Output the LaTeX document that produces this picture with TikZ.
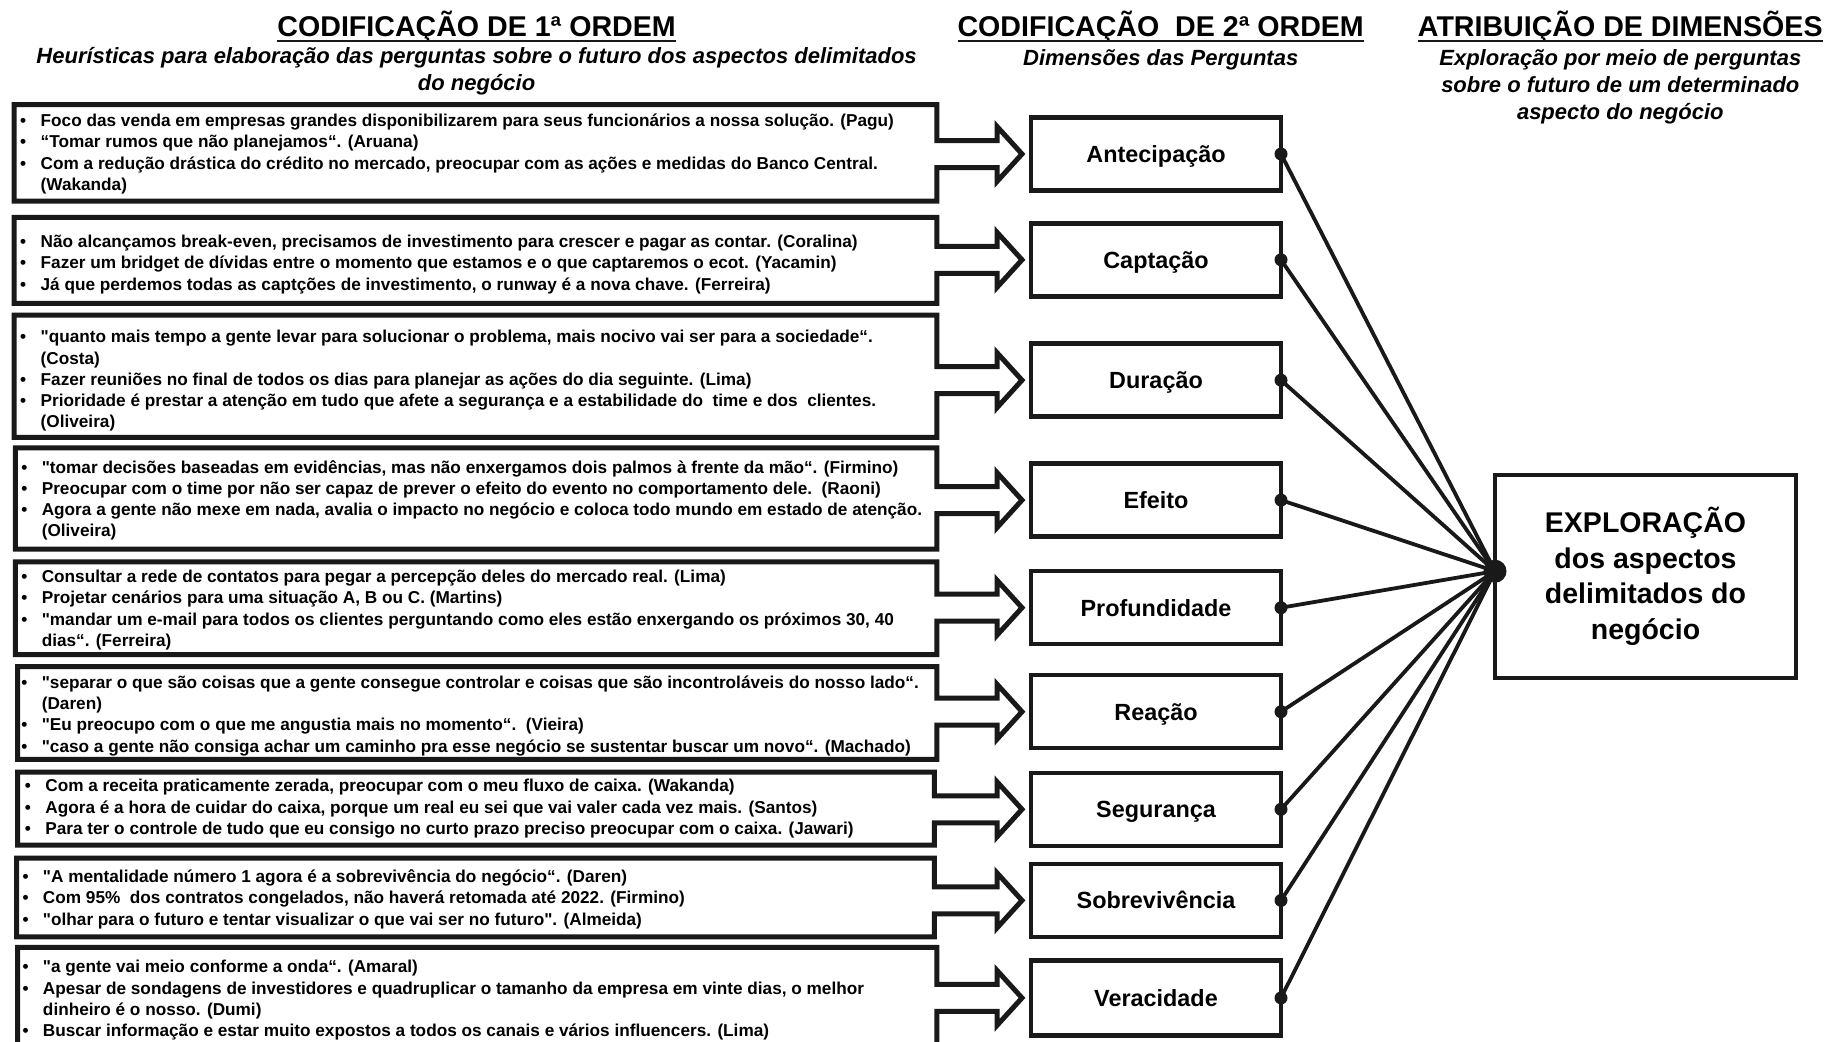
\documentclass[tikz,border=0pt]{standalone}
\usepackage{fontspec}
\setmainfont{Liberation Sans}[Ligatures=TeXOff]
\newcommand\bul{\makebox[20.5pt][l]{•}}
\newcommand\cont{\hspace*{20.5pt}}
% left quote box with its outgoing hollow arrow: #1 left, #2 top, #3 bottom, #4 right, #5 arrow axis
\newcommand\qframe[5]{%
  \draw[qline] (#1,#2) -- (#4,#2) -- (#4,{#5-13.5}) -- (997,{#5-13.5}) -- (997,{#5-27.5})
    -- (1022,#5) -- (997,{#5+27.5}) -- (997,{#5+13.5}) -- (#4,{#5+13.5}) -- (#4,#3)
    -- (#1,#3) -- cycle;}
\begin{document}
\begin{tikzpicture}[x=1pt,y=-1pt,
  every node/.style={inner sep=0pt, outer sep=0pt},
  heading/.style={font=\fontsize{28.6}{32}\selectfont\bfseries, anchor=base},
  subhead/.style={font=\fontsize{22}{27}\selectfont\bfseries\itshape, anchor=base},
  quotes/.style={font=\fontsize{17.2}{21.2}\selectfont\bfseries, anchor=west, align=left},
  qline/.style={line width=5pt, line join=miter, draw=black!90},
  dimbox/.style={draw=black!90, line width=4.5pt, minimum width=250pt, minimum height=73pt,
    text height=16.8pt, text depth=0pt, font=\fontsize{23.4}{28}\selectfont\bfseries},
  dot/.style={circle, fill=black!90, minimum size=13pt},
  hubdot/.style={circle, fill=black!90, minimum size=23pt},
  spoke/.style={line width=3.8pt, draw=black!90},
  ulink/.style={line width=2.4pt, draw=black!90}]

\useasboundingbox (0,0) rectangle (1843,1041);
\clip (0,0) rectangle (1843,1041);
\fill[white] (0,0) rectangle (1843,1041);

% column headings
\node[heading] (h1) at (476.6,36.5) {CODIFICAÇÃO DE 1ª ORDEM};
\node[heading] (h2) at (1160.7,36.5) {CODIFICAÇÃO\ \ DE 2ª ORDEM};
\node[heading] (h3) at (1620.3,36.5) {ATRIBUIÇÃO DE DIMENSÕES};
\foreach \h in {h1,h2,h3}
  \draw[ulink] ([yshift=-4.5pt]\h.base west) -- ([yshift=-4.5pt]\h.base east);

\node[subhead] (s1a) at (476.6,63.8) {Heurísticas para elaboração das perguntas sobre o futuro dos aspectos delimitados};
\node[subhead] (s1b) at (476.6,90.8) {do negócio};
\node[subhead] (s2) at (1160.7,65.5) {Dimensões das Perguntas};
\node[subhead] (s3a) at (1620.3,65.8) {Exploração por meio de perguntas};
\node[subhead] (s3b) at (1620.3,92.8) {sobre o futuro de um determinado};
\node[subhead] (s3c) at (1620.3,119.8) {aspecto do negócio};

% first-order coding: quote boxes
\qframe{14}{104.6}{201}{936.8}{154}
\node[quotes] (q1) at (20.2,154) {\bul Foco das venda em empresas grandes disponibilizarem para seus funcionários a nossa solução. (Pagu)\\
\bul “Tomar rumos que não planejamos“. (Aruana)\\
\bul Com a redução drástica do crédito no mercado, preocupar com as ações e medidas do Banco Central.\\
\cont (Wakanda)};

\qframe{14}{217.4}{303.3}{936.8}{259.8}
\node[quotes] (q2) at (20.2,264.5) {\bul Não alcançamos break-even, precisamos de investimento para crescer e pagar as contar. (Coralina)\\
\bul Fazer um bridget de dívidas entre o momento que estamos e o que captaremos o ecot. (Yacamin)\\
\bul Já que perdemos todas as captções de investimento, o runway é a nova chave. (Ferreira)};

\qframe{14}{315}{437.3}{936.8}{380.2}
\node[quotes] (q3) at (20.2,380.9) {\bul "quanto mais tempo a gente levar para solucionar o problema, mais nocivo vai ser para a sociedade“.\\
\cont (Costa)\\
\bul Fazer reuniões no final de todos os dias para planejar as ações do dia seguinte. (Lima)\\
\bul Prioridade é prestar a atenção em tudo que afete a segurança e a estabilidade do\ \ time e dos\ \ clientes.\\
\cont (Oliveira)};

\qframe{15.3}{447.8}{549}{936.8}{500.1}
\node[quotes] (q4) at (21.3,500.2) {\bul "tomar decisões baseadas em evidências, mas não enxergamos dois palmos à frente da mão“. (Firmino)\\
\bul Preocupar com o time por não ser capaz de prever o efeito do evento no comportamento dele.\ \ (Raoni)\\
\bul Agora a gente não mexe em nada, avalia o impacto no negócio e coloca todo mundo em estado de atenção.\\
\cont (Oliveira)};

\qframe{15.3}{561.8}{654.7}{936.8}{607.7}
\node[quotes] (q5) at (21.3,610.1) {\bul Consultar a rede de contatos para pegar a percepção deles do mercado real. (Lima)\\
\bul Projetar cenários para uma situação A, B ou C. (Martins)\\
\bul "mandar um e-mail para todos os clientes perguntando como eles estão enxergando os próximos 30, 40\\
\cont dias“. (Ferreira)};

\qframe{17.6}{666.5}{759.3}{936.8}{711.7}
\node[quotes] (q6) at (21.3,715.9) {\bul "separar o que são coisas que a gente consegue controlar e coisas que são incontroláveis do nosso lado“.\\
\cont (Daren)\\
\bul "Eu preocupo com o que me angustia mais no momento“.\ \ (Vieira)\\
\bul "caso a gente não consiga achar um caminho pra esse negócio se sustentar buscar um novo“. (Machado)};

\qframe{17.6}{772.2}{845.1}{934.4}{809.3}
\node[quotes] (q7) at (24.9,808.7) {\bul Com a receita praticamente zerada, preocupar com o meu fluxo de caixa. (Wakanda)\\
\bul Agora é a hora de cuidar do caixa, porque um real eu sei que vai valer cada vez mais. (Santos)\\
\bul Para ter o controle de tudo que eu consigo no curto prazo preciso preocupar com o caixa. (Jawari)};

\qframe{16.5}{858}{936.8}{934.4}{900.4}
\node[quotes] (q8) at (22.5,899.2) {\bul "A mentalidade número 1 agora é a sobrevivência do negócio“. (Daren)\\
\bul Com 95\%\ \ dos contratos congelados, não haverá retomada até 2022. (Firmino)\\
\bul "olhar para o futuro e tentar visualizar o que vai ser no futuro". (Almeida)};

\qframe{17.6}{947.4}{1060}{936.8}{997.9}
\node[quotes] (q9) at (22.5,1000.3) {\bul "a gente vai meio conforme a onda“. (Amaral)\\
\bul Apesar de sondagens de investidores e quadruplicar o tamanho da empresa em vinte dias, o melhor\\
\cont dinheiro é o nosso. (Dumi)\\
\bul Buscar informação e estar muito expostos a todos os canais e vários influencers. (Lima)};

% second-order coding: dimensions
\node[dimbox] (m1) at (1156,154) {Antecipação};
\node[dimbox] (m2) at (1156,259.8) {Captação};
\node[dimbox] (m3) at (1156,380.2) {Duração};
\node[dimbox] (m4) at (1156,500.1) {Efeito};
\node[dimbox] (m5) at (1156,607.7) {Profundidade};
\node[dimbox] (m6) at (1156,711.7) {Reação};
\node[dimbox] (m7) at (1156,809.3) {Segurança};
\node[dimbox] (m8) at (1156,900.4) {Sobrevivência};
\node[dimbox, minimum height=75pt] (m9) at (1156,997.9) {Veracidade};

% dimension assignment
\node[draw=black!90, line width=4.5pt, minimum width=301pt, minimum height=203pt,
  align=center, font=\fontsize{28.5}{35.6}\selectfont\bfseries] (ex) at (1645.5,576.5)
  {EXPLORAÇÃO\\dos aspectos\\delimitados do\\negócio};
\node[hubdot] (hub) at (1495,571.2) {};

\foreach \m in {m1,m2,m3,m4,m5,m6,m7,m8,m9}{
  \draw[spoke] (\m.east) -- (hub.center);
  \node[dot] at (\m.east) {};
}
\end{tikzpicture}
\end{document}
